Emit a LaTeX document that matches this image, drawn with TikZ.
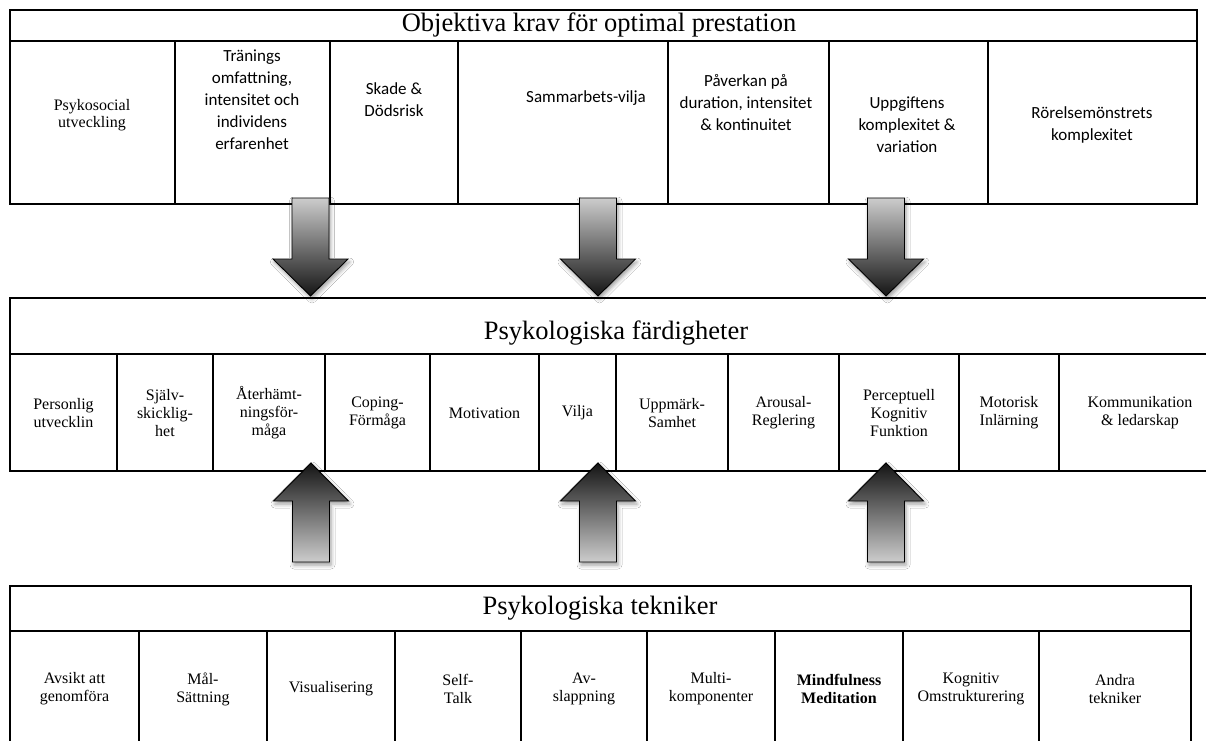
\documentclass[tikz,border=0pt]{standalone}
\usepackage{fontspec}
\setmainfont{Liberation Serif}
\newfontfamily\calibri{Carlito}
\usetikzlibrary{shadows.blur}

\begin{document}
\begin{tikzpicture}[x=1pt,y=-1pt,
  frame/.style={line width=1.8pt},
  tnr/.style={align=center,inner sep=0pt,font=\fontsize{16}{18}\selectfont},
  cal/.style={align=center,inner sep=0pt,font=\calibri\fontsize{17}{22}\selectfont},
  rubrik/.style={inner sep=0pt,font=\fontsize{26.5}{30}\selectfont},
  pil/.style={draw=black,line width=0.9pt,blur shadow={shadow xshift=1.5pt,shadow yshift=-3pt,shadow blur radius=4pt,shadow opacity=40}},
  ner/.style={pil,top color=black!20,bottom color=black!92},
  upp/.style={pil,top color=black!92,bottom color=black!20}]
\clip (0,0) rectangle (1206,740);
\fill[white] (0,0) rectangle (1206,740);

\draw[frame] (10,10) rectangle (1197,204);
\draw[frame] (10,41)--(1197,41);
\draw[frame] (175,41)--(175,204) (330,41)--(330,204) (458,41)--(458,204)
  (668,41)--(668,204) (829,41)--(829,204) (988,41)--(988,204);
\node[rubrik] (krav) at (599,25) {Objektiva krav för optimal prestation};
\node[tnr,font=\fontsize{16}{17}\selectfont] (kr1) at (92,115) {Psykosocial\\utveckling};
\node[cal] (kr2) at (252,100) {Tränings\\omfattning,\\intensitet och\\individens\\erfarenhet};
\node[cal] (kr3) at (394,100) {Skade \&\\Dödsrisk};
\node[cal] (kr4) at (586,98) {Sammarbets-vilja};
\node[cal] (kr5) at (746,103) {Påverkan på\\duration, intensitet\\\& kontinuitet};
\node[cal] (kr6) at (907,125) {Uppgiftens\\komplexitet \&\\variation};
\node[cal] (kr7) at (1092,125) {Rörelsemönstrets\\komplexitet};

\draw[frame] (10,298) rectangle (1222,471);
\draw[frame] (10,354)--(1222,354);
\draw[frame] (117,354)--(117,471) (213,354)--(213,471) (325,354)--(325,471)
  (430,354)--(430,471) (539,354)--(539,471) (616,354)--(616,471)
  (728,354)--(728,471) (839,354)--(839,471) (959,354)--(959,471)
  (1059,354)--(1059,471);
\node[rubrik] (fard) at (616,333) {Psykologiska färdigheter};
\node[tnr] (fa1) at (63.5,413) {Personlig\\utvecklin};
\node[tnr] (fa2) at (165,413) {Själv-\\skicklig-\\het};
\node[tnr] (fa3) at (269,413) {Återhämt-\\ningsför-\\måga};
\node[tnr] (fa4) at (377.5,413) {Coping-\\Förmåga};
\node[tnr] (fa5) at (484.5,413) {Motivation};
\node[tnr] (fa6) at (577.5,413) {Vilja};
\node[tnr] (fa7) at (672,413) {Uppmärk-\\Samhet};
\node[tnr] (fa8) at (783.5,413) {Arousal-\\Reglering};
\node[tnr] (fa9) at (899,413) {Perceptuell\\Kognitiv\\Funktion};
\node[tnr] (fa10) at (1009,413) {Motorisk\\Inlärning};
\node[tnr] (fa11) at (1140,413) {Kommunikation\\\& ledarskap};

\draw[frame] (10,586) rectangle (1191,760);
\draw[frame] (10,631)--(1191,631);
\draw[frame] (139,631)--(139,760) (267,631)--(267,760) (395,631)--(395,760)
  (521,631)--(521,760) (647,631)--(647,760) (775,631)--(775,760)
  (903,631)--(903,760) (1039,631)--(1039,760);
\node[rubrik] (tekn) at (600,608) {Psykologiska tekniker};
\node[tnr] (te1) at (74.5,689) {Avsikt att\\genomföra};
\node[tnr] (te2) at (203,689) {Mål-\\Sättning};
\node[tnr] (te3) at (331,689) {Visualisering};
\node[tnr] (te4) at (458,689) {Self-\\Talk};
\node[tnr] (te5) at (584,689) {Av-\\slappning};
\node[tnr] (te6) at (711,689) {Multi-\\komponenter};
\node[tnr,font=\fontsize{16}{18}\selectfont\bfseries] (te7) at (839,689) {Mindfulness\\Meditation};
\node[tnr] (te8) at (971,689) {Kognitiv\\Omstrukturering};
\node[tnr] (te9) at (1115,689) {Andra\\tekniker};

\coordinate (ned1) at (310.5,198);
\coordinate (ned2) at (598,198);
\coordinate (ned3) at (886,198);
\coordinate (upp1) at (311,562);
\coordinate (upp2) at (598,562);
\coordinate (upp3) at (886,562);
\draw[ner] (ned1) ++(-18.5,0) -- ++(37,0) -- ++(0,61) -- ++(19,0) -- ++(-37.5,37) -- ++(-37.5,-37) -- ++(19,0) -- cycle;
\draw[ner] (ned2) ++(-18.5,0) -- ++(37,0) -- ++(0,61) -- ++(19,0) -- ++(-37.5,37) -- ++(-37.5,-37) -- ++(19,0) -- cycle;
\draw[ner] (ned3) ++(-18.5,0) -- ++(37,0) -- ++(0,61) -- ++(19,0) -- ++(-37.5,37) -- ++(-37.5,-37) -- ++(19,0) -- cycle;
\draw[upp] (upp1) ++(-18.5,0) -- ++(37,0) -- ++(0,-61) -- ++(19,0) -- ++(-37.5,-38) -- ++(-37.5,38) -- ++(19,0) -- cycle;
\draw[upp] (upp2) ++(-18.5,0) -- ++(37,0) -- ++(0,-61) -- ++(19,0) -- ++(-37.5,-38) -- ++(-37.5,38) -- ++(19,0) -- cycle;
\draw[upp] (upp3) ++(-18.5,0) -- ++(37,0) -- ++(0,-61) -- ++(19,0) -- ++(-37.5,-38) -- ++(-37.5,38) -- ++(19,0) -- cycle;
\end{tikzpicture}
\end{document}
